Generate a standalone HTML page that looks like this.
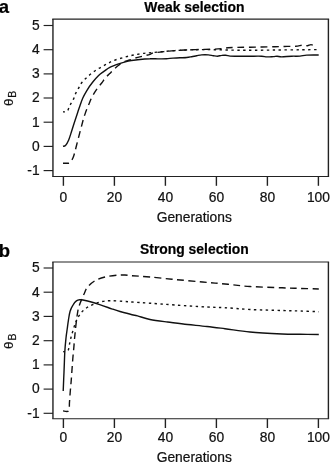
<!DOCTYPE html>
<html><head><meta charset="utf-8"><title>Selection</title>
<style>
html,body{margin:0;padding:0;background:#fff;}
svg{display:block;}
text{font-family:"Liberation Sans",sans-serif;fill:#111;stroke:#111;stroke-width:0.22px;}
.t{font-size:13.8px;}
.b{font-size:13.9px;font-weight:bold;fill:#000;}
.l{font-size:18.5px;font-weight:bold;fill:#000;}
.c{fill:none;stroke:#111;stroke-width:1.4;stroke-linejoin:round;}
</style></head><body>
<svg width="330" height="465" viewBox="0 0 330 465">
<rect width="330" height="465" fill="#fff"/>
<path d="M52.25 19.10H329.10M52.25 176.50H329.10" fill="none" stroke="#222" stroke-width="1.15"/>
<path d="M52.95 19.10V176.50M328.40 19.10V176.50" fill="none" stroke="#222" stroke-width="1.4"/>
<line x1="43.6" x2="53.0" y1="170.6" y2="170.6" stroke="#222" stroke-width="1.15"/>
<text x="39.6" y="174.9" text-anchor="end" class="t">-1</text>
<line x1="43.6" x2="53.0" y1="146.4" y2="146.4" stroke="#222" stroke-width="1.15"/>
<text x="39.6" y="150.7" text-anchor="end" class="t">0</text>
<line x1="43.6" x2="53.0" y1="122.2" y2="122.2" stroke="#222" stroke-width="1.15"/>
<text x="39.6" y="126.5" text-anchor="end" class="t">1</text>
<line x1="43.6" x2="53.0" y1="98.0" y2="98.0" stroke="#222" stroke-width="1.15"/>
<text x="39.6" y="102.3" text-anchor="end" class="t">2</text>
<line x1="43.6" x2="53.0" y1="73.9" y2="73.9" stroke="#222" stroke-width="1.15"/>
<text x="39.6" y="78.2" text-anchor="end" class="t">3</text>
<line x1="43.6" x2="53.0" y1="49.7" y2="49.7" stroke="#222" stroke-width="1.15"/>
<text x="39.6" y="54.0" text-anchor="end" class="t">4</text>
<line x1="43.6" x2="53.0" y1="25.5" y2="25.5" stroke="#222" stroke-width="1.15"/>
<text x="39.6" y="29.8" text-anchor="end" class="t">5</text>
<line x1="63.4" x2="63.4" y1="176.5" y2="185.8" stroke="#222" stroke-width="1.4"/>
<text x="63.4" y="202.0" text-anchor="middle" class="t">0</text>
<line x1="114.4" x2="114.4" y1="176.5" y2="185.8" stroke="#222" stroke-width="1.4"/>
<text x="114.4" y="202.0" text-anchor="middle" class="t">20</text>
<line x1="165.4" x2="165.4" y1="176.5" y2="185.8" stroke="#222" stroke-width="1.4"/>
<text x="165.4" y="202.0" text-anchor="middle" class="t">40</text>
<line x1="216.4" x2="216.4" y1="176.5" y2="185.8" stroke="#222" stroke-width="1.4"/>
<text x="216.4" y="202.0" text-anchor="middle" class="t">60</text>
<line x1="267.4" x2="267.4" y1="176.5" y2="185.8" stroke="#222" stroke-width="1.4"/>
<text x="267.4" y="202.0" text-anchor="middle" class="t">80</text>
<line x1="318.4" x2="318.4" y1="176.5" y2="185.8" stroke="#222" stroke-width="1.4"/>
<text x="318.4" y="202.0" text-anchor="middle" class="t">100</text>
<text x="194.3" y="221.7" text-anchor="middle" class="t">Generations</text>
<text x="194.4" y="12.3" text-anchor="middle" class="b">Weak selection</text>
<text x="-1.3" y="12.5" class="l">a</text>
<text transform="translate(13 102.4) rotate(-90) scale(1.08 1)" text-anchor="middle" font-size="12.2">θ</text>
<text transform="translate(15.8 94.2) rotate(-90)" text-anchor="middle" font-size="10.6">B</text>
<path d="M63.0 146.2 C63.4 146.1 64.5 146.5 65.5 145.5 C66.5 144.5 67.6 142.6 68.7 140.0 C69.8 137.4 70.9 133.3 72.0 130.0 C73.1 126.7 74.0 123.5 75.2 120.0 C76.4 116.5 77.7 112.4 78.9 108.8 C80.2 105.2 81.3 101.4 82.7 98.2 C84.1 95.0 85.7 92.5 87.3 89.8 C88.9 87.1 90.7 84.7 92.6 82.3 C94.5 79.9 96.7 77.3 98.6 75.5 C100.5 73.7 102.0 72.8 103.9 71.4 C105.8 70.1 107.3 68.7 109.8 67.4 C112.2 66.2 115.5 65.0 118.6 63.9 C121.7 62.8 125.0 61.8 128.2 61.1 C131.4 60.4 134.1 60.2 137.7 59.8 C141.3 59.4 146.6 58.9 150.0 58.8 C153.4 58.6 155.3 58.9 158.0 58.9 C160.7 58.9 163.9 58.8 166.4 58.7 C168.9 58.6 170.7 58.2 173.0 58.1 C175.3 58.0 177.7 57.9 180.0 57.8 C182.3 57.7 184.8 57.7 186.7 57.5 C188.6 57.3 190.0 57.0 191.7 56.7 C193.4 56.4 195.0 56.0 196.7 55.7 C198.4 55.4 199.8 55.0 201.7 54.9 C203.6 54.8 206.4 54.8 208.3 54.9 C210.2 55.0 211.8 55.5 213.3 55.7 C214.8 55.9 216.1 56.2 217.5 56.2 C218.9 56.2 220.3 55.5 221.7 55.4 C223.1 55.2 224.4 55.2 225.8 55.3 C227.2 55.4 228.5 56.0 230.0 56.1 C231.5 56.2 233.1 56.2 234.8 56.2 C236.5 56.2 237.5 56.2 240.0 56.2 C242.5 56.2 246.4 56.2 250.0 56.2 C253.6 56.2 258.9 56.1 261.7 56.2 C264.5 56.3 264.8 56.8 266.7 56.9 C268.6 57.0 271.6 56.7 273.3 56.6 C275.0 56.5 275.6 56.2 277.0 56.2 C278.4 56.2 279.2 56.9 281.7 56.9 C284.1 56.9 288.6 56.3 291.7 56.2 C294.8 56.1 297.5 56.3 300.0 56.1 C302.5 55.9 303.6 55.3 306.7 55.1 C309.8 54.9 316.7 55.0 318.7 55.0" class="c"/>
<path d="M63.0 111.8 C63.4 111.8 64.8 112.0 65.5 111.8 C66.2 111.6 66.9 111.5 67.5 110.8 C68.1 110.1 68.5 108.6 69.0 107.5 C69.5 106.4 69.8 105.6 70.6 104.2 C71.4 102.8 72.7 100.8 73.6 98.9 C74.5 97.0 75.0 94.8 75.9 92.9 C76.8 91.0 77.9 89.4 78.9 87.6 C79.9 85.8 80.7 83.9 82.0 82.3 C83.3 80.7 84.9 79.2 86.5 77.7 C88.1 76.2 90.0 74.6 91.8 73.2 C93.6 71.8 95.3 70.5 97.1 69.4 C98.9 68.3 100.6 67.4 102.4 66.4 C104.2 65.4 105.9 64.5 107.7 63.6 C109.5 62.6 110.7 61.7 113.2 60.7 C115.7 59.7 119.5 58.6 122.7 57.7 C125.9 56.8 129.1 56.0 132.3 55.3 C135.5 54.6 138.4 54.1 141.8 53.6 C145.2 53.1 147.5 53.0 153.0 52.5 C158.5 52.0 168.8 51.0 175.0 50.6 C181.2 50.2 185.0 50.1 190.0 49.9 C195.0 49.7 200.0 49.6 205.0 49.6 C210.0 49.6 215.0 49.7 220.0 49.8 C225.0 49.9 230.0 50.1 235.0 50.2 C240.0 50.3 243.3 50.3 250.0 50.3 C256.7 50.3 266.7 50.1 275.0 50.0 C283.3 49.9 292.8 49.9 300.0 49.8 C307.2 49.7 315.4 49.6 318.5 49.6" class="c" stroke-dasharray="2.4 3.5" stroke-dashoffset="0.45"/>
<path d="M63.0 163.2 C64.0 163.2 67.4 163.5 68.7 163.2 C70.0 162.9 70.2 162.7 71.0 161.5 C71.8 160.3 72.9 158.3 73.7 156.0 C74.5 153.7 74.9 151.8 76.0 147.5 C77.1 143.2 79.2 134.8 80.5 130.0 C81.8 125.2 82.8 121.2 83.5 118.6 C84.2 115.9 84.4 115.9 85.0 114.1 C85.6 112.3 86.5 109.9 87.3 108.0 C88.0 106.1 88.8 104.5 89.5 102.7 C90.2 100.9 90.9 99.2 91.8 97.4 C92.7 95.6 93.8 93.7 94.8 92.1 C95.8 90.5 96.8 89.1 97.9 87.6 C99.1 86.1 100.4 84.7 101.7 83.0 C103.0 81.3 104.2 79.3 105.5 77.7 C106.8 76.1 108.5 74.8 109.8 73.5 C111.1 72.2 112.1 71.0 113.6 69.6 C115.1 68.2 116.9 66.5 118.6 65.2 C120.3 63.9 122.2 62.7 124.0 61.8 C125.8 60.9 127.5 60.7 129.6 60.0 C131.7 59.3 134.1 58.4 136.4 57.7 C138.7 57.1 140.9 56.7 143.2 56.1 C145.5 55.5 148.4 54.8 150.0 54.3 C151.6 53.8 150.5 53.5 153.0 53.0 C155.5 52.5 161.3 51.9 165.0 51.5 C168.7 51.1 170.8 50.9 175.0 50.6 C179.2 50.3 185.0 50.0 190.0 49.8 C195.0 49.6 200.8 49.5 205.0 49.4 C209.2 49.3 212.2 49.2 215.0 49.1 C217.8 49.0 219.8 48.8 222.0 48.6 C224.2 48.4 225.8 48.0 228.0 47.8 C230.2 47.6 231.3 47.5 235.0 47.4 C238.7 47.3 243.3 47.3 250.0 47.2 C256.7 47.1 268.8 46.8 275.0 46.7 C281.2 46.6 283.5 46.5 287.0 46.4 C290.5 46.3 293.4 46.5 295.8 46.3 C298.2 46.1 300.2 45.5 301.7 45.3 C303.1 45.1 303.5 45.1 304.5 45.2 C305.5 45.3 306.4 45.8 307.5 45.7 C308.6 45.6 309.9 44.6 311.0 44.6 C312.1 44.6 313.1 45.5 314.2 45.8 C315.2 46.1 316.8 46.1 317.3 46.2" class="c" stroke-dasharray="6.8 4.67" stroke-dashoffset="0.85"/>
<path d="M52.25 261.95H329.10M52.25 418.70H329.10" fill="none" stroke="#222" stroke-width="1.15"/>
<path d="M52.95 261.95V418.70M328.40 261.95V418.70" fill="none" stroke="#222" stroke-width="1.4"/>
<line x1="43.6" x2="53.0" y1="413.3" y2="413.3" stroke="#222" stroke-width="1.15"/>
<text x="39.6" y="417.6" text-anchor="end" class="t">-1</text>
<line x1="43.6" x2="53.0" y1="389.1" y2="389.1" stroke="#222" stroke-width="1.15"/>
<text x="39.6" y="393.4" text-anchor="end" class="t">0</text>
<line x1="43.6" x2="53.0" y1="364.9" y2="364.9" stroke="#222" stroke-width="1.15"/>
<text x="39.6" y="369.2" text-anchor="end" class="t">1</text>
<line x1="43.6" x2="53.0" y1="340.7" y2="340.7" stroke="#222" stroke-width="1.15"/>
<text x="39.6" y="345.0" text-anchor="end" class="t">2</text>
<line x1="43.6" x2="53.0" y1="316.4" y2="316.4" stroke="#222" stroke-width="1.15"/>
<text x="39.6" y="320.7" text-anchor="end" class="t">3</text>
<line x1="43.6" x2="53.0" y1="292.2" y2="292.2" stroke="#222" stroke-width="1.15"/>
<text x="39.6" y="296.5" text-anchor="end" class="t">4</text>
<line x1="43.6" x2="53.0" y1="268.0" y2="268.0" stroke="#222" stroke-width="1.15"/>
<text x="39.6" y="272.3" text-anchor="end" class="t">5</text>
<line x1="63.4" x2="63.4" y1="418.7" y2="428.0" stroke="#222" stroke-width="1.4"/>
<text x="63.4" y="441.8" text-anchor="middle" class="t">0</text>
<line x1="114.4" x2="114.4" y1="418.7" y2="428.0" stroke="#222" stroke-width="1.4"/>
<text x="114.4" y="441.8" text-anchor="middle" class="t">20</text>
<line x1="165.4" x2="165.4" y1="418.7" y2="428.0" stroke="#222" stroke-width="1.4"/>
<text x="165.4" y="441.8" text-anchor="middle" class="t">40</text>
<line x1="216.4" x2="216.4" y1="418.7" y2="428.0" stroke="#222" stroke-width="1.4"/>
<text x="216.4" y="441.8" text-anchor="middle" class="t">60</text>
<line x1="267.4" x2="267.4" y1="418.7" y2="428.0" stroke="#222" stroke-width="1.4"/>
<text x="267.4" y="441.8" text-anchor="middle" class="t">80</text>
<line x1="318.4" x2="318.4" y1="418.7" y2="428.0" stroke="#222" stroke-width="1.4"/>
<text x="318.4" y="441.8" text-anchor="middle" class="t">100</text>
<text x="194.3" y="461.5" text-anchor="middle" class="t">Generations</text>
<text x="194.4" y="254.0" text-anchor="middle" class="b">Strong selection</text>
<text x="-1.3" y="256.7" class="l">b</text>
<text transform="translate(13 345.3) rotate(-90) scale(1.08 1)" text-anchor="middle" font-size="12.2">θ</text>
<text transform="translate(15.8 337.0) rotate(-90)" text-anchor="middle" font-size="10.6">B</text>
<path d="M63.2 391.0 C63.3 387.8 63.7 378.5 64.0 372.0 C64.3 365.5 64.5 357.7 64.8 352.0 C65.1 346.3 65.6 341.8 66.0 338.0 C66.4 334.2 66.8 331.9 67.2 329.0 C67.6 326.1 67.9 323.3 68.4 320.3 C68.9 317.3 69.3 313.8 70.1 311.2 C70.9 308.6 72.0 306.5 73.1 304.8 C74.1 303.1 75.3 301.7 76.4 300.9 C77.5 300.1 78.6 299.9 79.7 299.8 C80.8 299.7 81.1 299.6 83.0 300.0 C84.9 300.4 88.5 301.2 91.3 302.0 C94.1 302.8 96.9 303.7 99.7 304.6 C102.5 305.5 105.8 306.7 108.0 307.5 C110.2 308.3 110.8 308.5 112.8 309.2 C114.8 309.9 116.8 310.6 120.0 311.5 C123.2 312.4 129.1 314.0 132.0 314.7 C134.9 315.4 134.5 315.1 137.5 315.9 C140.5 316.7 145.0 318.5 150.0 319.5 C155.0 320.5 161.2 321.2 167.5 322.0 C173.8 322.8 180.9 323.8 187.5 324.5 C194.1 325.2 200.8 325.8 207.0 326.5 C213.2 327.2 217.8 327.8 225.0 328.7 C232.2 329.6 240.5 331.1 250.0 332.0 C259.5 332.9 273.7 333.6 282.0 334.0 C290.3 334.4 293.9 334.2 300.0 334.3 C306.1 334.4 315.7 334.5 318.8 334.5" class="c"/>
<path d="M63.2 351.7 C63.7 351.6 65.2 351.7 66.0 351.4 C66.8 351.1 67.7 351.3 68.3 350.0 C68.9 348.7 69.1 345.9 69.6 343.7 C70.1 341.5 70.5 339.4 71.1 337.0 C71.7 334.6 72.6 331.9 73.3 329.6 C74.0 327.3 74.7 324.8 75.4 323.0 C76.1 321.2 76.6 320.1 77.3 318.7 C78.0 317.3 78.8 316.1 79.7 314.8 C80.7 313.5 81.6 312.1 83.0 310.8 C84.4 309.5 86.2 308.0 88.0 306.9 C89.8 305.8 91.8 305.0 93.8 304.2 C95.8 303.4 97.3 302.6 100.0 302.0 C102.7 301.4 105.8 300.8 110.0 300.7 C114.2 300.6 121.3 301.3 125.0 301.5 C128.7 301.7 127.8 301.7 132.0 302.0 C136.2 302.3 142.8 302.7 150.0 303.2 C157.2 303.7 165.5 304.4 175.0 305.0 C184.5 305.6 198.7 306.6 207.0 307.0 C215.3 307.4 217.8 307.3 225.0 307.7 C232.2 308.1 240.5 309.0 250.0 309.5 C259.5 310.0 273.7 310.2 282.0 310.5 C290.3 310.8 293.9 310.8 300.0 311.0 C306.1 311.2 315.7 311.6 318.8 311.7" class="c" stroke-dasharray="2.4 3.45" stroke-dashoffset="0.57"/>
<path d="M63.0 410.9 C63.9 410.9 67.5 412.4 68.6 410.9 C69.7 409.4 69.2 405.3 69.5 402.0 C69.8 398.7 70.0 394.3 70.3 391.0 C70.6 387.7 70.8 385.3 71.1 382.0 C71.4 378.7 71.6 374.9 71.9 371.0 C72.2 367.1 72.5 362.4 72.8 358.7 C73.1 355.0 73.4 352.1 73.7 349.0 C74.0 345.9 74.2 342.8 74.4 340.0 C74.7 337.2 74.9 335.3 75.2 332.0 C75.5 328.7 76.1 323.2 76.5 320.0 C76.9 316.8 77.3 314.5 77.6 312.5 C77.9 310.5 78.1 309.5 78.5 308.0 C78.9 306.5 79.4 305.1 80.0 303.5 C80.6 301.9 81.4 300.1 82.2 298.3 C83.0 296.5 83.8 294.4 84.7 292.5 C85.6 290.6 85.8 289.0 87.5 287.0 C89.2 285.0 92.1 282.4 95.0 280.7 C97.9 279.0 101.2 277.9 105.0 277.0 C108.8 276.1 114.2 275.5 117.5 275.2 C120.8 274.9 122.6 274.9 125.0 275.0 C127.4 275.1 127.8 275.4 132.0 275.7 C136.2 276.0 142.8 276.4 150.0 277.0 C157.2 277.6 166.2 278.7 175.0 279.5 C183.8 280.3 194.2 281.2 202.5 282.0 C210.8 282.8 217.1 283.2 225.0 284.0 C232.9 284.8 240.5 285.9 250.0 286.5 C259.5 287.1 273.7 287.5 282.0 287.8 C290.3 288.1 293.9 288.2 300.0 288.4 C306.1 288.6 315.7 288.9 318.8 289.0" class="c" stroke-dasharray="6.9 4.42" stroke-dashoffset="1.3"/>
</svg></body></html>
